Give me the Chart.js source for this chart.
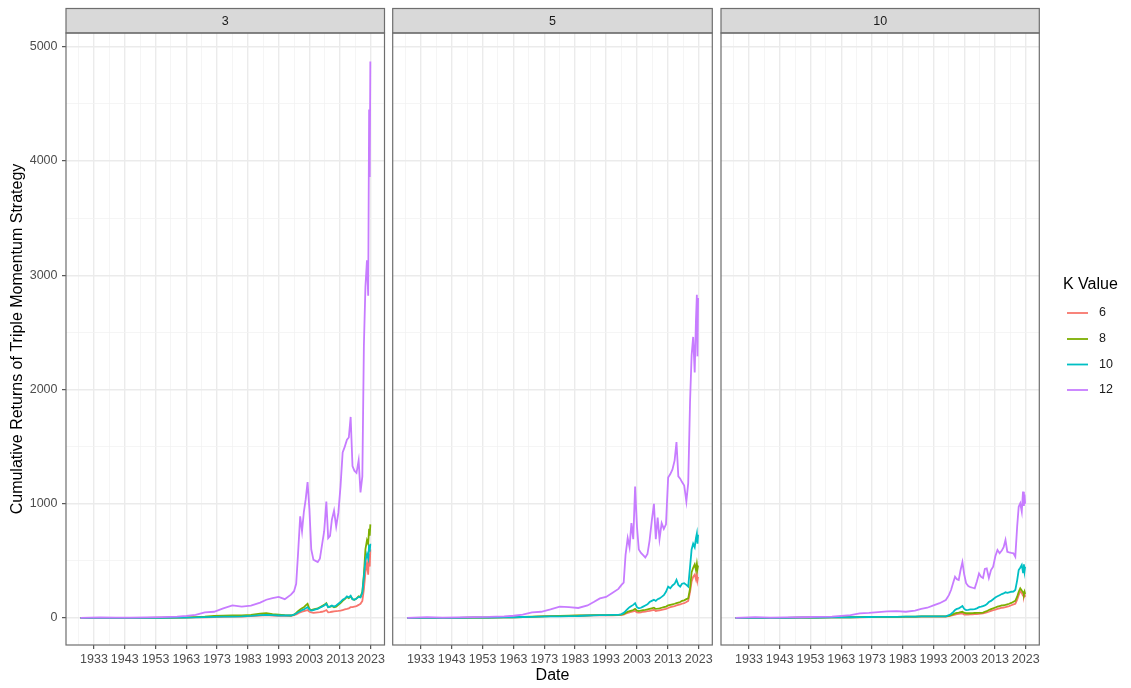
<!DOCTYPE html>
<html><head><meta charset="utf-8">
<script src="https://cdn.jsdelivr.net/npm/chart.js@4.4.0/dist/chart.umd.min.js"></script>
<style>
html,body{margin:0;padding:0;background:#fff;}
#wrap{position:relative;width:1131px;height:688px;overflow:hidden;background:#fff;}
canvas{position:absolute;top:0;}
</style></head><body>
<div id="wrap">
<canvas id="c1" width="389" height="688" style="left:0px"></canvas>
<canvas id="c2" width="328" height="688" style="left:389px"></canvas>
<canvas id="c3" width="414" height="688" style="left:717px"></canvas>
</div>
<script>
// ---- data ----
const dates = [1928.6,1935,1940,1945,1950,1955,1960,1963,1966,1969,
  1972,1975,1978,1981,1984,1987,1989,1991,1993,1995,
  1997,1998,1998.7,1999.3,2000,2000.6,2001.2,2001.8,2002.4,2003,
  2003.6,2004.3,2005,2005.7,2006.4,2007.1,2007.8,2008.5,2009.1,2009.7,
  2010.3,2011,2011.7,2012.4,2013.1,2013.8,2014.5,2015.2,2015.8,2016.4,
  2017,2017.6,2018.3,2019,2019.6,2020.2,2020.7,2021.2,2021.7,2022.1,
  2022.4,2022.6,2022.8];
const facetLabels = ['3','5','10'];
const kLabels = ['6','8','10','12'];
const kColors = ['#F8766D','#7CAE00','#00BFC4','#C77CFF'];

// facet 3
const f3_k6  = [1,1,1,1,2,2,3,4,5,7, 9,11,12,13,16,22,25,22,20,20, 20,25,32,40,50,55,60,65,70,55, 50,45,48,50,52,55,60,70,50,52, 55,58,60,62,65,70,75,80,85,95, 95,100,105,115,125,150,250,400,480,380, 560,450,600];
const f3_k8  = [1,1,1,1,2,3,4,5,8,12, 18,20,22,22,28,38,42,35,30,25, 22,30,45,60,75,85,95,110,125,80, 70,75,80,85,95,105,115,130,95,100, 105,95,100,115,130,150,165,185,175,190, 165,160,170,190,185,230,380,600,680,650, 780,720,820];
const f3_k10 = [1,1,1,1,2,2,3,4,5,8, 10,12,13,14,18,25,28,25,22,22, 22,30,40,50,60,70,75,85,95,75, 65,70,75,80,90,100,110,125,95,100, 110,100,110,125,140,160,170,190,180,195, 165,160,170,185,180,220,360,500,560,520, 640,580,650];
const f3_k12 = [1,5,3,4,6,8,12,18,28,50, 55,85,110,100,108,135,160,175,185,165, 205,235,300,560,890,760,930,1040,1190,950, 600,510,500,490,520,640,760,1020,700,720, 860,940,800,920,1150,1450,1500,1560,1580,1760, 1330,1290,1270,1380,1100,1240,2380,2900,3130,2820, 4450,3860,4870];
// facet 5
const f5_k6  = [1,1,1,2,3,4,5,6,8,11, 14,16,17,18,20,22,24,24,24,24, 25,27,30,38,45,50,55,58,62,50, 48,50,55,57,60,63,68,72,62,64, 68,72,76,80,88,95,100,105,110,115, 120,125,130,140,150,230,320,360,380,340, 390,330,360];
const f5_k8  = [1,1,1,2,3,4,5,6,9,12, 15,17,18,20,22,24,26,26,26,26, 27,30,35,45,55,60,65,70,80,65, 60,65,70,72,75,80,85,90,80,82, 85,90,95,100,110,115,120,125,130,135, 140,150,155,165,172,260,400,440,470,420, 475,430,460];
const f5_k10 = [1,1,1,2,3,4,5,7,9,11, 13,14,15,16,18,22,24,25,26,27, 28,35,45,60,80,95,105,115,130,95, 85,90,100,110,120,140,150,160,150,165, 172,185,200,230,275,260,285,300,335,290, 275,300,305,290,275,450,600,650,620,700, 740,650,730];
const f5_k12 = [1,8,4,5,8,10,15,20,30,50, 55,75,100,95,88,110,140,172,185,220, 255,290,310,550,700,620,830,690,1150,800, 600,570,550,530,560,680,850,1000,690,880, 690,830,780,820,1230,1260,1300,1380,1540,1240, 1220,1190,1160,1020,1180,1900,2300,2460,2150,2600, 2830,2290,2800];
// facet 10
const f10_k6  = [1,1,1,2,3,4,5,5,6,7, 8,8,9,9,10,11,12,12,12,12, 13,16,20,25,30,34,36,38,40,30, 30,31,32,33,34,35,36,38,40,45, 50,55,62,68,74,80,85,90,92,95, 100,105,112,120,125,160,200,235,220,195, 190,210,185];
const f10_k8  = [1,1,1,2,3,4,5,6,7,8, 9,10,10,11,12,13,14,14,14,14, 15,20,25,32,40,45,48,52,55,45, 42,42,42,43,44,45,46,46,48,55, 60,70,78,85,92,99,105,110,112,115, 120,125,132,143,150,187,230,260,240,225, 210,230,210];
const f10_k10 = [1,1,1,2,3,4,5,6,7,8, 9,10,10,11,12,13,14,14,14,14, 15,25,35,50,70,80,85,95,105,80, 70,72,75,75,78,85,95,100,105,110, 120,140,150,165,180,190,200,210,215,225, 220,225,230,232,245,330,420,440,465,400, 470,410,450];
const f10_k12 = [1,8,4,5,7,10,12,18,25,40, 45,52,58,60,55,65,80,90,110,130, 158,200,245,300,362,340,333,420,490,380, 305,280,270,265,260,320,390,360,350,430, 435,350,420,450,540,595,567,590,620,683, 580,575,570,567,537,800,975,1004,931,1106, 980,1080,1000];

const xMajorTicks = [1933,1943,1953,1963,1973,1983,1993,2003,2013,2023];
const xMinorTicks = [1928,1938,1948,1958,1968,1978,1988,1998,2008,2018];
const yMajorTicks = [0,1000,2000,3000,4000,5000];
const yMinorTicks = [500,1500,2500,3500,4500];

const facetSeries = [
  [f3_k6, f3_k8, f3_k10, f3_k12],
  [f5_k6, f5_k8, f5_k10, f5_k12],
  [f10_k6, f10_k8, f10_k10, f10_k12]
];

// ---- drawing ----
const FONT = '"Liberation Sans", Arial, Helvetica, sans-serif';
const STRIP_TOP = 8.5;

const stripPlugin = {
  id: 'strip',
  afterDraw(chart, args, o) {
    const {ctx, chartArea: {left, right, top, bottom}} = chart;
    ctx.save();
    ctx.fillStyle = '#D9D9D9';
    ctx.fillRect(left, STRIP_TOP, right - left, top - STRIP_TOP);
    ctx.strokeStyle = '#6E6E6E';
    ctx.lineWidth = 1.2;
    ctx.strokeRect(left, STRIP_TOP, right - left, top - STRIP_TOP);
    ctx.strokeRect(left, top, right - left, bottom - top);
    ctx.fillStyle = '#1A1A1A';
    ctx.font = '12.5px ' + FONT;
    ctx.textAlign = 'center';
    ctx.textBaseline = 'middle';
    ctx.fillText(o.text, (left + right) / 2, (STRIP_TOP + top) / 2 + 0.5);
    ctx.restore();
  }
};

const legendPlugin = {
  id: 'kLegend',
  afterDraw(chart, args, o) {
    if (!o.show) return;
    const ctx = chart.ctx;
    const ox = o.offsetX;
    ctx.save();
    ctx.fillStyle = '#000';
    ctx.font = '16px ' + FONT;
    ctx.textAlign = 'left';
    ctx.textBaseline = 'middle';
    ctx.fillText('K Value', 1063 - ox, 285);
    const ys = [313, 339, 364.5, 390];
    ctx.font = '12.5px ' + FONT;
    kLabels.forEach((lab, i) => {
      ctx.strokeStyle = kColors[i];
      ctx.lineWidth = 1.8;
      ctx.beginPath();
      ctx.moveTo(1067 - ox, ys[i]);
      ctx.lineTo(1088 - ox, ys[i]);
      ctx.stroke();
      ctx.fillStyle = '#1A1A1A';
      ctx.fillText(lab, 1099 - ox, ys[i]);
    });
    ctx.restore();
  }
};

function isMajorX(v) { return xMajorTicks.includes(v); }
function isMajorY(v) { return yMajorTicks.includes(v); }

function makePanel(id, idx, cfg) {
  const series = facetSeries[idx];
  const datasets = series.map((arr, k) => ({
    label: kLabels[k],
    data: dates.map((d, i) => ({x: d, y: arr[i]})),
    borderColor: kColors[k],
    backgroundColor: kColors[k],
    borderWidth: 1.8,
    pointRadius: 0,
    tension: 0,
    fill: false,
    order: 3 - k
  }));
  return new Chart(document.getElementById(id), {
    type: 'line',
    data: {datasets},
    options: {
      responsive: false,
      animation: false,
      events: [],
      layout: {padding: cfg.padding},
      plugins: {
        legend: {display: false},
        tooltip: {enabled: false},
        strip: {text: facetLabels[idx]},
        kLegend: {show: !!cfg.legend, offsetX: cfg.offsetX}
      },
      scales: {
        x: {
          type: 'linear',
          min: 1923.9, max: 2027.4,
          afterBuildTicks: s => { s.ticks = xMinorTicks.concat(xMajorTicks).sort((a,b)=>a-b).map(v => ({value: v})); },
          afterFit: s => { s.height = 43; },
          border: {display: false},
          grid: {
            color: c => isMajorX(c.tick.value) ? '#EBEBEB' : '#F3F3F3',
            lineWidth: c => isMajorX(c.tick.value) ? 1.4 : 0.8,
            tickColor: c => isMajorX(c.tick.value) ? '#333333' : 'rgba(0,0,0,0)',
            tickLength: 4,
            tickWidth: 1,
            drawTicks: true
          },
          ticks: {
            autoSkip: false, maxRotation: 0, minRotation: 0, padding: 3,
            color: '#4D4D4D', font: {size: 12.5, family: FONT},
            callback: v => isMajorX(v) ? String(v) : ''
          },
          title: {
            display: !!cfg.xTitle, text: 'Date', color: '#000',
            font: {size: 16, family: FONT}, padding: {top: 0, bottom: 2.5}
          }
        },
        y: {
          type: 'linear',
          min: -236, max: 5120,
          afterBuildTicks: s => { s.ticks = yMinorTicks.concat(yMajorTicks).sort((a,b)=>a-b).map(v => ({value: v})); },
          afterFit: s => { s.width = cfg.yWidth; },
          border: {display: false},
          grid: {
            color: c => isMajorY(c.tick.value) ? '#EBEBEB' : '#F3F3F3',
            lineWidth: c => isMajorY(c.tick.value) ? 1.4 : 0.8,
            tickColor: c => isMajorY(c.tick.value) ? '#333333' : 'rgba(0,0,0,0)',
            tickLength: 4,
            tickWidth: 1,
            drawTicks: !!cfg.yAxis
          },
          ticks: {
            display: !!cfg.yAxis,
            autoSkip: false, padding: 4.5,
            color: '#4D4D4D', font: {size: 12.5, family: FONT},
            callback: v => isMajorY(v) ? String(v) : ''
          },
          title: {
            display: !!cfg.yAxis, text: 'Cumulative Returns of Triple Momentum Strategy', color: '#000',
            font: {size: 16, family: FONT}, padding: {top: 8, bottom: 0}
          }
        }
      }
    },
    plugins: [stripPlugin, legendPlugin]
  });
}

makePanel('c1', 0, {padding: {left: 0, right: 4.5, top: 33, bottom: 0}, yWidth: 66, yAxis: true});
makePanel('c2', 1, {padding: {left: 3.7, right: 4.7, top: 33, bottom: 0}, yWidth: 0, xTitle: true});
makePanel('c3', 2, {padding: {left: 4, right: 91.7, top: 33, bottom: 0}, yWidth: 0, legend: true, offsetX: 717});
</script>
</body></html>
